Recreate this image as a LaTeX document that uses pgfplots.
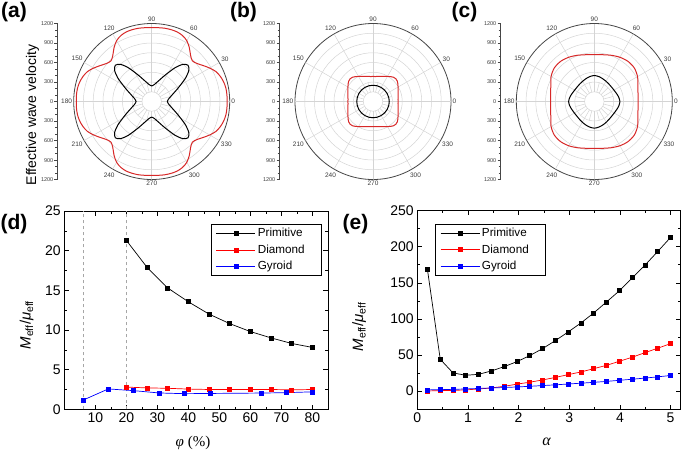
\documentclass[border=0pt]{standalone}
\usepackage{pgfplots}
\pgfplotsset{compat=1.18}
\usepgfplotslibrary{polar}
\usepackage{fontspec}
\setmainfont{Liberation Sans}
\newfontfamily\serif{Liberation Serif}
\definecolor{gridc}{RGB}{212,212,212}
\definecolor{polred}{RGB}{215,40,40}
\definecolor{axgray}{RGB}{70,70,70}
\definecolor{lblgray}{RGB}{60,60,60}
\pgfplotsset{
  polarstyle/.style={
    scale only axis, width=156pt, height=156pt, anchor=center,
    ymin=0, ymax=1200,
    xtick={0,30,...,330},
    xticklabels={0,30,60,90,120,150,180,210,240,270,300,330},
    ytick={150,300,...,1050},
    yticklabels={},
    ymajorgrids=true, xmajorgrids=false,
    major grid style={gridc, line width=0.5pt},
    major tick length=0pt, minor tick length=0pt,
    ytick style={draw=none},
    y axis line style={draw=none},
    axis line style={axgray, line width=0.8pt},
    xticklabel style={font=\fontsize{6.5}{7}\selectfont, text=lblgray, inner sep=1.5pt},
  },
  scalestyle/.style={
    scale only axis, width=10pt, height=156.4pt, anchor=west,
    hide x axis, axis y line*=left,
    xmin=0, xmax=1, ymin=-1200, ymax=1200,
    ytick={-1200,-900,...,1200},
    yticklabels={1200,900,600,300,0,300,600,900,1200},
    minor y tick num=2,
    tick align=outside,
    major tick length=2.5pt, minor tick length=1.5pt,
    axis line style={axgray, line width=0.6pt},
    tick style={axgray, line width=0.5pt},
    yticklabel style={font=\fontsize{5.5}{6}\selectfont, text=lblgray, inner sep=1pt},
  },
  lowstyle/.style={
    scale only axis, height=198.3pt, anchor=south west,
    tick align=inside,
    major tick length=4.5pt, minor tick length=2.5pt,
    minor x tick num=1, minor y tick num=1,
    axis line style={line width=0.8pt},
    tick style={black, line width=0.6pt},
    ticklabel style={font=\fontsize{14}{16}\selectfont},
    /pgf/number format/assume math mode=true,
    legend style={font=\fontsize{11.7}{14}\selectfont, draw=black, line width=0.6pt, row sep=2.5pt, inner xsep=5pt, inner ysep=2pt, cells={anchor=west}},
    legend image code/.code={\draw[mark repeat=2,mark phase=2,#1] plot coordinates {(0pt,0pt) (19.5pt,0pt) (39pt,0pt)};},
  },
  pline/.style={#1, line width=0.7pt, mark=square*, mark size=2pt, mark options={solid, fill=#1}},
}
\begin{document}
\begin{tikzpicture}
\path[use as bounding box] (0,0) rectangle (685pt,-451pt);
% panel labels
\node[font=\bfseries\fontsize{21}{24}\selectfont] at (14pt,-12.5pt) {(a)};
\node[font=\bfseries\fontsize{21}{24}\selectfont] at (243.5pt,-12.5pt) {(b)};
\node[font=\bfseries\fontsize{21}{24}\selectfont] at (464.5pt,-12.5pt) {(c)};
\node[font=\bfseries\fontsize{21}{24}\selectfont] at (14pt,-224pt) {(d)};
\node[font=\bfseries\fontsize{21}{24}\selectfont] at (355.5pt,-224pt) {(e)};
\node[rotate=90, font=\fontsize{14}{16}\selectfont] at (32.5pt,-115pt) {Effective wave velocity};

% ---------- (a)
\begin{polaraxis}[polarstyle, at={(151.7pt,-101.5pt)}]
\pgfplotsinvokeforeach{0,30,...,330}{\draw[gridc, line width=0.5pt] (axis cs:#1,150) -- (axis cs:#1,1200);}
\pgfplotsinvokeforeach{15,45,...,345}{\draw[gridc, line width=0.5pt] (axis cs:#1,150) -- (axis cs:#1,300);}
\addplot[polred, line width=1pt, smooth] coordinates {
(0,1160)(5,1162)(10,1160)(15,1148)(20,1125)(25,1090)(30,1030)(35,965)(40,910)(45,885)(50,930)(55,1010)(60,1080)(65,1120)(70,1140)(75,1145)(80,1145)(85,1140)(90,1135)
(95,1140)(100,1145)(105,1145)(110,1140)(115,1120)(120,1080)(125,1010)(130,930)(135,885)(140,910)(145,965)(150,1030)(155,1090)(160,1125)(165,1148)(170,1160)(175,1162)(180,1160)
(185,1162)(190,1160)(195,1148)(200,1125)(205,1090)(210,1030)(215,965)(220,910)(225,885)(230,930)(235,1010)(240,1080)(245,1120)(250,1140)(255,1145)(260,1145)(265,1140)(270,1135)
(275,1140)(280,1145)(285,1145)(290,1140)(295,1120)(300,1080)(305,1010)(310,930)(315,885)(320,910)(325,965)(330,1030)(335,1090)(340,1125)(345,1148)(350,1160)(355,1162)(360,1160)};
\addplot[black, line width=1pt, smooth] coordinates {
(0,240)(5,250)(10,270)(15,305)(20,352)(25,422)(30,515)(35,640)(40,745)(45,790)(50,745)(55,640)(60,515)(65,422)(70,352)(75,305)(80,270)(85,250)(90,240)
(95,250)(100,270)(105,305)(110,352)(115,422)(120,515)(125,640)(130,745)(135,790)(140,745)(145,640)(150,515)(155,422)(160,352)(165,305)(170,270)(175,250)(180,240)
(185,250)(190,270)(195,305)(200,352)(205,422)(210,515)(215,640)(220,745)(225,790)(230,745)(235,640)(240,515)(245,422)(250,352)(255,305)(260,270)(265,250)(270,240)
(275,250)(280,270)(285,305)(290,352)(295,422)(300,515)(305,640)(310,745)(315,790)(320,745)(325,640)(330,515)(335,422)(340,352)(345,305)(350,270)(355,250)(360,240)};
\end{polaraxis}
\begin{axis}[scalestyle, at={(57pt,-101.5pt)}]
\addplot[draw=none] coordinates {(0.5,0)};
\end{axis}

% ---------- (b)
\begin{polaraxis}[polarstyle, at={(373pt,-101.5pt)}]
\pgfplotsinvokeforeach{0,30,...,330}{\draw[gridc, line width=0.5pt] (axis cs:#1,150) -- (axis cs:#1,1200);}
\pgfplotsinvokeforeach{15,45,...,345}{\draw[gridc, line width=0.5pt] (axis cs:#1,150) -- (axis cs:#1,300);}
\addplot[polred, line width=1pt, smooth] coordinates {
(0,385)(5,386)(10,391)(15,399)(20,410)(25,425)(30,445)(35,468)(40,488)(45,496)(50,488)(55,468)(60,445)(65,425)(70,410)(75,399)(80,391)(85,386)(90,385)
(95,386)(100,391)(105,399)(110,410)(115,425)(120,445)(125,468)(130,488)(135,496)(140,488)(145,468)(150,445)(155,425)(160,410)(165,399)(170,391)(175,386)(180,385)
(185,386)(190,391)(195,399)(200,410)(205,425)(210,445)(215,468)(220,488)(225,496)(230,488)(235,468)(240,445)(245,425)(250,410)(255,399)(260,391)(265,386)(270,385)
(275,386)(280,391)(285,399)(290,410)(295,425)(300,445)(305,468)(310,488)(315,496)(320,488)(325,468)(330,445)(335,425)(340,410)(345,399)(350,391)(355,386)(360,385)};
\addplot[black, line width=1pt, smooth] coordinates {
(0,250)(15,250)(30,250)(45,250)(60,250)(75,250)(90,250)(105,250)(120,250)(135,250)(150,250)(165,250)(180,250)
(195,250)(210,250)(225,250)(240,250)(255,250)(270,250)(285,250)(300,250)(315,250)(330,250)(345,250)(360,250)};
\end{polaraxis}
\begin{axis}[scalestyle, at={(279pt,-101.5pt)}]
\addplot[draw=none] coordinates {(0.5,0)};
\end{axis}

% ---------- (c)
\begin{polaraxis}[polarstyle, at={(594.3pt,-101.5pt)}]
\pgfplotsinvokeforeach{0,30,...,330}{\draw[gridc, line width=0.5pt] (axis cs:#1,150) -- (axis cs:#1,1200);}
\pgfplotsinvokeforeach{15,45,...,345}{\draw[gridc, line width=0.5pt] (axis cs:#1,150) -- (axis cs:#1,300);}
\addplot[polred, line width=1pt, smooth] coordinates {
(0,673)(10,683)(20,712)(30,768)(40,803)(50,806)(60,786)(70,757)(80,731)(90,720)(100,731)(110,757)(120,786)(130,806)(140,803)(150,768)(160,712)(170,683)(180,673)
(190,683)(200,712)(210,768)(220,803)(230,806)(240,786)(250,757)(260,731)(270,722)(280,731)(290,757)(300,786)(310,806)(320,803)(330,768)(340,712)(350,683)(360,673)};
\addplot[black, line width=1pt, smooth] coordinates {
(0,395)(10,382)(20,363)(30,350)(40,346)(50,350)(60,360)(70,374)(80,390)(90,400)(100,390)(110,374)(120,360)(130,350)(140,346)(150,350)(160,363)(170,382)(180,395)
(190,384)(200,366)(210,354)(220,350)(230,356)(240,368)(250,384)(260,400)(270,410)(280,400)(290,384)(300,368)(310,356)(320,350)(330,354)(340,366)(350,384)(360,395)};
\end{polaraxis}
\begin{axis}[scalestyle, at={(500pt,-101.5pt)}]
\addplot[draw=none] coordinates {(0.5,0)};
\end{axis}

% ---------- (d)
\begin{axis}[lowstyle, width=263.7pt, at={(64.3pt,-409.3pt)},
  xmin=0, xmax=85, ymin=0, ymax=25,
  xtick={10,20,...,80}, ytick={0,5,...,25},
  xlabel={\serif\fontsize{15}{17}\selectfont\textit{φ} (\%)},
  ylabel={\fontsize{15}{17}\selectfont\textit{M}\textsubscript{eff}/\textit{μ}\textsubscript{eff}},
  xlabel style={at={(axis description cs:0.488,-0.17)}, anchor=center},
  ylabel style={at={(axis description cs:-0.143,0.425)}, anchor=center},
  legend style={at={(0.977,0.934)}, anchor=north east},
]
\addplot[gray!70, dashed, line width=0.6pt, forget plot] coordinates {(6,0) (6,25)};
\addplot[gray!70, dashed, line width=0.6pt, forget plot] coordinates {(20,0) (20,25)};
\addplot[pline=black] coordinates {(20,21.3) (26.67,17.9) (33.33,15.3) (40,13.55) (46.67,12.0) (53.33,10.8) (60,9.8) (66.67,9.0) (73.33,8.3) (80,7.8)};
\addlegendentry{Primitive\hspace*{10pt}}
\addplot[pline=red] coordinates {(20,2.8) (26.67,2.7) (33.33,2.65) (40,2.55) (46.67,2.5) (53.33,2.5) (60,2.5) (66.67,2.5) (73.33,2.45) (80,2.5)};
\addlegendentry{Diamond\hspace*{10pt}}
\addplot[pline=blue] coordinates {(6,1.15) (14.2,2.57) (22.4,2.35) (30.6,2.06) (38.8,1.97) (47,2.0) (63.4,2.05) (71.6,2.1) (79.8,2.2)};
\addlegendentry{Gyroid\hspace*{10pt}}
\end{axis}

% ---------- (e)
\begin{axis}[lowstyle, width=263.4pt, at={(417.3pt,-409pt)},
  xmin=0, xmax=5.2, ymin=-25, ymax=250,
  xtick={0,1,...,5}, ytick={0,50,...,250},
  xlabel={\serif\fontsize{16}{18}\selectfont\textit{α}},
  ylabel={\fontsize{15}{17}\selectfont\textit{M}\textsubscript{eff}/\textit{μ}\textsubscript{eff}},
  xlabel style={at={(axis description cs:0.491,-0.165)}, anchor=center},
  ylabel style={at={(axis description cs:-0.221,0.415)}, anchor=center},
  legend style={at={(0.067,0.933)}, anchor=north west},
]
\addplot[pline=black] coordinates {(0.2,168.5) (0.453,44) (0.705,25) (0.958,21.8) (1.211,23.1) (1.463,27.8) (1.716,33.8) (1.968,40.7) (2.221,49.1) (2.474,58.8) (2.726,69.9) (2.979,81.9) (3.232,94.4) (3.484,108.3) (3.737,123.6) (3.989,138.9) (4.242,156.9) (4.495,174.5) (4.747,193.5) (5.0,213)};
\addlegendentry{Primitive\hspace*{10pt}}
\addplot[pline=red] coordinates {(0.2,0) (0.453,0.5) (0.705,0.8) (0.958,1.5) (1.211,2.8) (1.463,4.2) (1.716,6.5) (1.968,9.5) (2.221,12.2) (2.474,15.3) (2.726,18.8) (2.979,22.7) (3.232,26.4) (3.484,31) (3.737,35.6) (3.989,41.2) (4.242,46.8) (4.495,53.2) (4.747,59.3) (5.0,65.7)};
\addlegendentry{Diamond\hspace*{10pt}}
\addplot[pline=blue] coordinates {(0.2,1.5) (0.453,1.8) (0.705,2.3) (0.958,2.8) (1.211,3.5) (1.463,4.2) (1.716,4.8) (1.968,5.6) (2.221,6.5) (2.474,7.5) (2.726,8.5) (2.979,9.7) (3.232,10.8) (3.484,12) (3.737,13.3) (3.989,14.8) (4.242,16.3) (4.495,17.9) (4.747,19.6) (5.0,21.5)};
\addlegendentry{Gyroid\hspace*{10pt}}
\end{axis}
\end{tikzpicture}
\end{document}
